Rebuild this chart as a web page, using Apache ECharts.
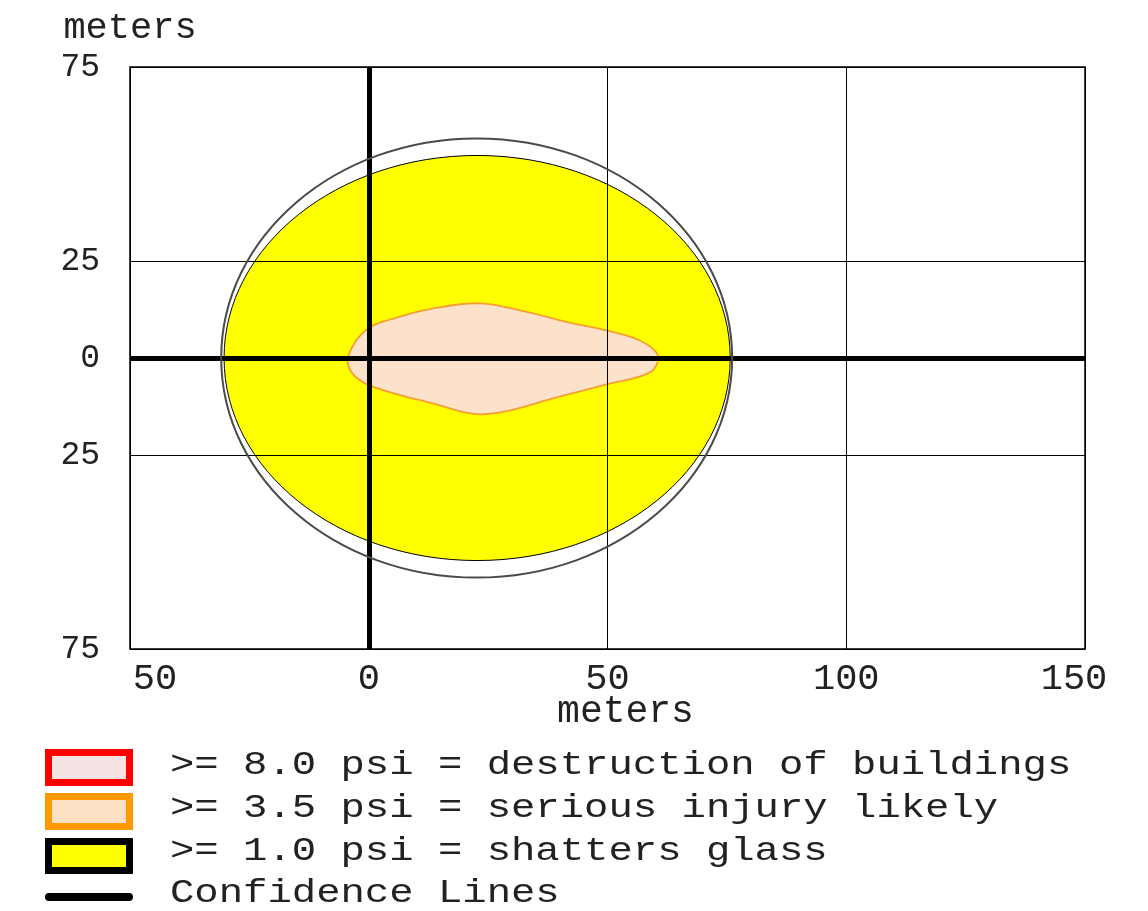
<!DOCTYPE html>
<html><head><meta charset="utf-8">
<script src="https://cdn.jsdelivr.net/npm/echarts@6/dist/echarts.min.js"></script>
<style>html,body{margin:0;padding:0;background:#fff}#c{width:1148px;height:911px}</style>
</head><body><div id="c"></div>
<script>
// ---- data (metres) ----
const xTicks = [-50, 0, 50, 100, 150];
const yTicks = [-75, -25, 0, 25, 75];
const axisTitle = 'meters';
// >= 1.0 psi zone: centre x, centre y, half-width, half-height
const glassZone = [22.7, 0, 53.0, 52.2];
// confidence ring: centre x, centre y, half-width, half-height
const confidenceRing = [22.6, 0, 53.5, 56.6];
// >= 3.5 psi zone outline
const injuryX = [-4.3, -0.4, 5.9, 12.8, 23.3, 33.8, 42.1, 49.8, 56.8, 60.6, 58.9, 49.8, 40.7, 24.3, 12.8, 0.3, -3.6];
const injuryY = [0.5, 7.4, 10.4, 12.6, 14.1, 11.7, 9.1, 7.1, 4.5, 0.5, -3.7, -6.8, -9.7, -14.5, -11.5, -7.1, -3.7];
// confidence lines
const confidenceLineX = [0];
const confidenceLineY = [0];
const legendLabels = [
  '>= 8.0 psi = destruction of buildings',
  '>= 3.5 psi = serious injury likely',
  '>= 1.0 psi = shatters glass',
  'Confidence Lines'
];

const FONT = '"Liberation Mono","DejaVu Sans Mono",monospace';
const TXT = '#222';
const chart = echarts.init(document.getElementById('c'));

function ellipseItem(fill, stroke, lw) {
  return function (params, api) {
    const c = api.coord([api.value(0), api.value(1)]);
    const s = api.size([api.value(2), api.value(3)]);
    return {
      type: 'ellipse',
      shape: { cx: c[0], cy: c[1], rx: s[0], ry: s[1] },
      style: { fill: fill, stroke: stroke, lineWidth: lw }
    };
  };
}

const legendTop = [765, 808, 851, 893];
const graphic = [
  { type: 'rect', shape: { x: 48.5, y: 752.5, width: 81, height: 30 }, style: { fill: '#f6e4e4', stroke: '#ff0000', lineWidth: 7 } },
  { type: 'rect', shape: { x: 48.5, y: 796.5, width: 81, height: 30 }, style: { fill: '#fce0c4', stroke: '#ff9900', lineWidth: 7 } },
  { type: 'rect', shape: { x: 48.5, y: 841.5, width: 81, height: 29 }, style: { fill: '#ffff00', stroke: '#000000', lineWidth: 7 } },
  { type: 'line', shape: { x1: 49, y1: 897, x2: 129, y2: 897 }, style: { stroke: '#000', lineWidth: 8, lineCap: 'round' } }
];
legendLabels.forEach((t, i) => {
  graphic.push({
    type: 'text', x: 170, y: legendTop[i], scaleX: 1.23,
    style: { text: t, font: '33px ' + FONT, fill: TXT, textAlign: 'left', textVerticalAlign: 'middle' }
  });
});

const option = {
  animation: false,
  backgroundColor: '#fff',
  grid: { left: 130, right: 63, top: 67, bottom: 262, show: true, borderColor: '#000', borderWidth: 1.5, backgroundColor: 'transparent' },
  xAxis: {
    type: 'value', min: xTicks[0], max: xTicks[xTicks.length - 1], interval: 50, z: 5,
    name: axisTitle, nameLocation: 'middle', nameGap: 44, nameMoveOverlap: false,
    nameTextStyle: { fontFamily: FONT, fontSize: 38, color: TXT, padding: [0, 0, 0, 36] },
    axisLine: { show: false, onZero: false }, axisTick: { show: false },
    axisLabel: {
      margin: 12, fontFamily: FONT, fontSize: 37, color: TXT,
      formatter: v => {
        if (v === xTicks[0]) return '{l|' + Math.abs(v) + '}';
        if (v === xTicks[xTicks.length - 1]) return '{r|' + Math.abs(v) + '}';
        return String(Math.abs(v));
      },
      rich: {
        l: { fontFamily: FONT, fontSize: 37, color: TXT, padding: [0, 0, 0, 50] },
        r: { fontFamily: FONT, fontSize: 37, color: TXT, padding: [0, 22, 0, 0] }
      }
    },
    splitLine: { show: true, lineStyle: { color: '#000', width: 1 } }
  },
  yAxis: {
    type: 'value', min: yTicks[0], max: yTicks[yTicks.length - 1], interval: 25, z: 5,
    name: axisTitle, nameLocation: 'end', nameGap: 20,
    nameTextStyle: { fontFamily: FONT, fontSize: 37, color: TXT, align: 'center', verticalAlign: 'bottom' },
    axisLine: { show: false, onZero: false }, axisTick: { show: false },
    axisLabel: {
      margin: 30, fontFamily: FONT, fontSize: 33, color: TXT,
      formatter: v => yTicks.indexOf(v) >= 0 ? String(Math.abs(v)) : ''
    },
    splitLine: {
      show: true,
      lineStyle: { width: 1, color: ['#000', 'rgba(0,0,0,0)', '#000', '#000', '#000', 'rgba(0,0,0,0)', '#000'] }
    }
  },
  series: [
    {
      name: '>= 1.0 psi', type: 'custom', z: 2, silent: true,
      renderItem: ellipseItem('#ffff00', '#000', 1),
      data: [glassZone]
    },
    {
      name: '>= 3.5 psi', type: 'custom', z: 3, silent: true,
      renderItem: function (params, api) {
        if (params.dataIndex !== 0) return null;
        const pts = injuryX.map((x, i) => api.coord([x, injuryY[i]]));
        return { type: 'polygon', shape: { points: pts, smooth: 0.35 }, style: { fill: '#fce2ca', stroke: '#f5a035', lineWidth: 1.8 } };
      },
      data: injuryX.map((x, i) => [x, injuryY[i]])
    },
    {
      name: 'Confidence Lines', type: 'custom', z: 10, silent: true,
      renderItem: ellipseItem('none', '#4a4a4a', 2),
      data: [confidenceRing],
      markLine: {
        silent: true, symbol: 'none', label: { show: false }, z: 10,
        lineStyle: { color: '#000', width: 5, type: 'solid' },
        data: [{ xAxis: confidenceLineX[0] }, { yAxis: confidenceLineY[0] }]
      }
    }
  ],
  graphic: graphic
};
chart.setOption(option);
</script>
</body></html>
